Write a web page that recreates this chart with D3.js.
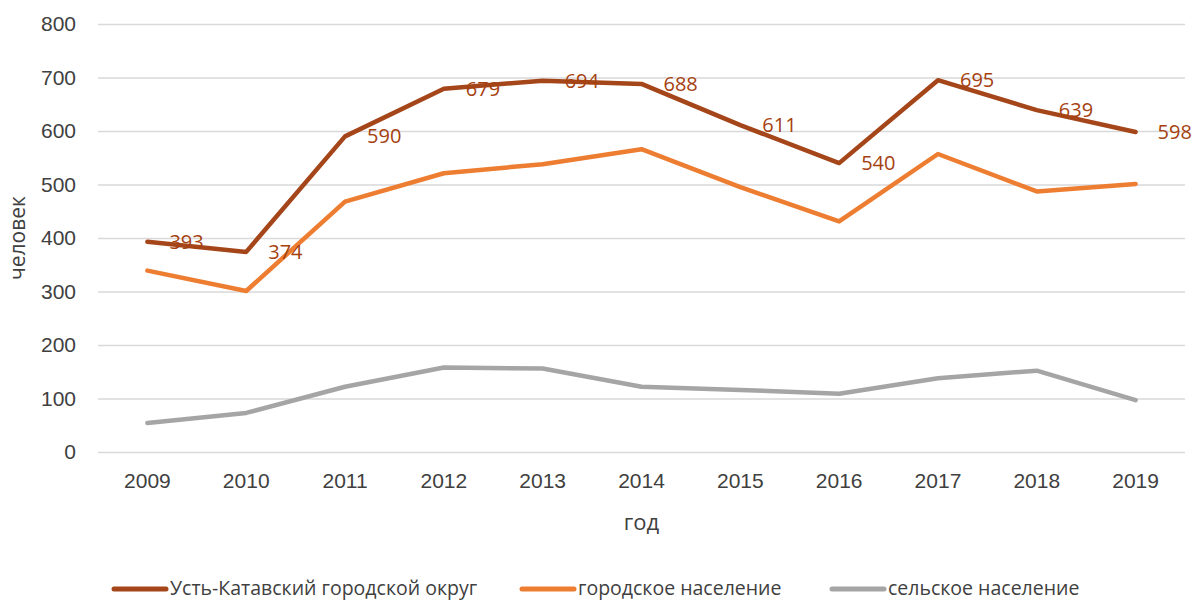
<!DOCTYPE html>
<html>
  <head>
    <meta charset="utf-8">
    <script src="https://d3js.org/d3.v7.min.js"></script>
    <style type="text/css">
      body {
        margin: 0;
        background: #fff;
        font-family: 'Open Sans', sans-serif;
      }
      .tick text { fill: #404040; }
    </style>
  </head>
  <body>
    <svg id="chart" width="1198" height="601"></svg>
    <script>
      const years = ['2009', '2010', '2011', '2012', '2013', '2014', '2015', '2016', '2017', '2018', '2019']
      const total = [393, 374, 590, 679, 694, 688, 611, 540, 695, 639, 598]
      const urban = [339, 301, 468, 521, 538, 566, 495, 431, 557, 487, 501]
      const rural = [54, 73, 122, 158, 156, 122, 116, 109, 138, 152, 97]
      const yTicks = [0, 100, 200, 300, 400, 500, 600, 700, 800]
      const seriesNames = ['Усть-Катавский городской округ', 'городское население', 'сельское население']
      const seriesColors = ['#A5461A', '#ED7D31', '#A5A5A5']

      const series = [total, urban, rural]

      const svg = d3.select('#chart')
      const plotLeft = 98, plotRight = 1185, plotTop = 24, plotBottom = 452

      const x = d3.scaleBand().domain(years).range([plotLeft, plotRight])
      const y = d3.scaleLinear().domain([0, 800]).range([plotBottom, plotTop])

      // gridlines + y labels
      const yAxis = svg.append('g')
        .attr('transform', `translate(${plotLeft},0)`)
        .call(d3.axisLeft(y).tickValues(yTicks).tickSize(-(plotRight - plotLeft)).tickPadding(22))
      yAxis.select('.domain').remove()
      yAxis.selectAll('.tick line').attr('stroke', '#D9D9D9').attr('stroke-width', 1.5)
      yAxis.selectAll('.tick text').style('font-size', '21px')

      const xAxis = svg.append('g')
        .attr('transform', `translate(0,${plotBottom})`)
        .call(d3.axisBottom(x).tickSize(0).tickPadding(21))
      xAxis.select('.domain').remove()
      xAxis.selectAll('.tick text').style('font-size', '21px')

      const line = d3.line()
        .x((d, i) => x(years[i]) + x.bandwidth() / 2)
        .y(d => y(d))

      // draw rural first so the total sits on top
      series.map((s, i) => i).reverse().forEach(i => {
        svg.append('path')
          .datum(series[i])
          .attr('d', line)
          .attr('fill', 'none')
          .attr('stroke', seriesColors[i])
          .attr('stroke-width', 4.5)
          .attr('stroke-linejoin', 'round')
          .attr('stroke-linecap', 'round')
      })

      // data labels for the total, to the right of each point
      svg.append('g').selectAll('text')
        .data(total)
        .join('text')
        .attr('x', (d, i) => x(years[i]) + x.bandwidth() / 2 + 22)
        .attr('y', d => y(d))
        .attr('dy', '0.35em')
        .style('font-size', '20px')
        .style('fill', '#A5410F')
        .text(d => d)

      // axis titles
      svg.append('text')
        .attr('x', (plotLeft + plotRight) / 2)
        .attr('y', 530)
        .attr('text-anchor', 'middle')
        .style('font-size', '22px')
        .style('fill', '#404040')
        .text('год')

      svg.append('text')
        .attr('transform', `translate(25,${(plotTop + plotBottom) / 2}) rotate(-90)`)
        .attr('text-anchor', 'middle')
        .style('font-size', '21px')
        .style('fill', '#404040')
        .text('человек')

      // legend
      const legendX = [112, 520, 830]
      const legend = svg.append('g').selectAll('g')
        .data(seriesNames)
        .join('g')
        .attr('transform', (d, i) => `translate(${legendX[i]},589)`)
      legend.append('line')
        .attr('x1', 2).attr('x2', 54)
        .attr('stroke', (d, i) => seriesColors[i])
        .attr('stroke-width', 5)
        .attr('stroke-linecap', 'round')
      legend.append('text')
        .attr('x', 58)
        .attr('dy', '0.3em')
        .style('font-size', '19.5px')
        .style('fill', '#404040')
        .text(d => d)
    </script>
  </body>
</html>
